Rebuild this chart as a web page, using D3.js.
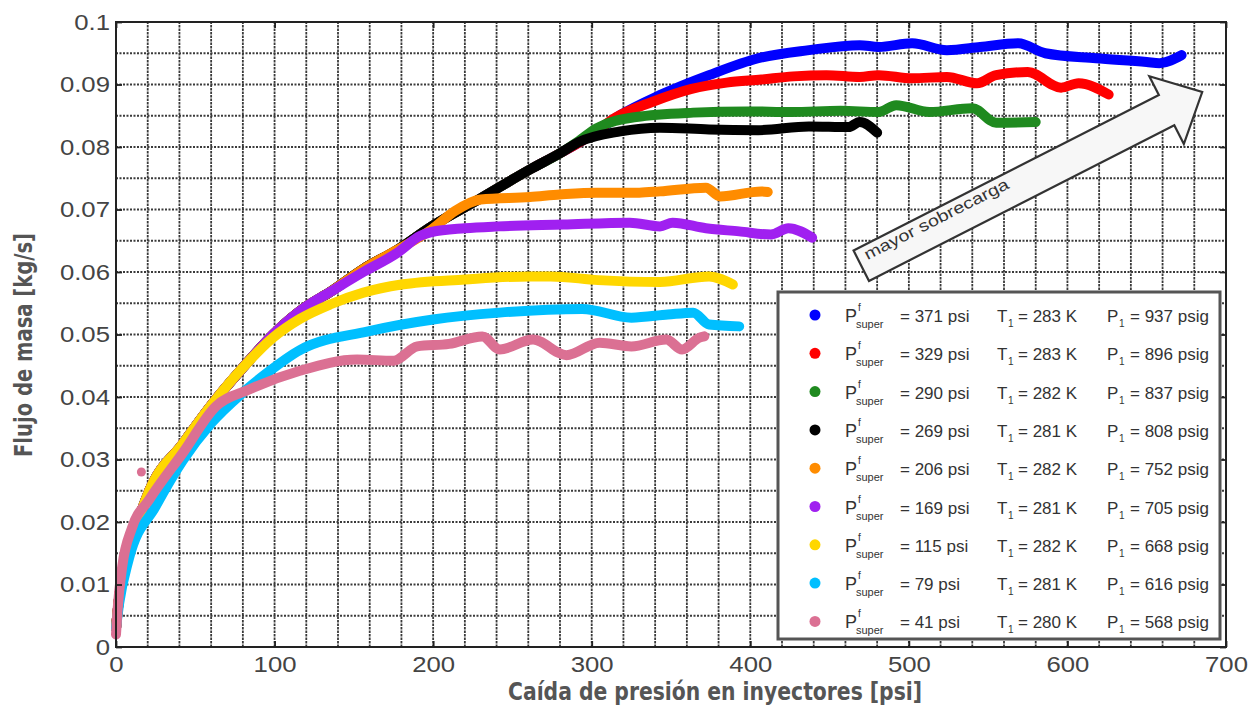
<!DOCTYPE html>
<html><head><meta charset="utf-8">
<script src="https://cdn.jsdelivr.net/npm/d3@7"></script>
<style>
html,body{margin:0;padding:0;background:#fff;}
svg{display:block;}
</style></head>
<body>
<script>
// ---------- DATA ----------
const xTicks = [0,100,200,300,400,500,600,700];
const yTicks = [0,0.01,0.02,0.03,0.04,0.05,0.06,0.07,0.08,0.09,0.1];
const xLabel = "Caída de presión en inyectores [psi]";
const yLabel = "Flujo de masa [kg/s]";
const arrowLabel = "mayor sobrecarga";

const seriesColors = ["#0000ff","#ff0000","#1f8a1f","#000000","#ff8c00","#a020f0","#ffd700","#00bfff","#db7093"];
const superP = [371,329,290,269,206,169,115,79,41];
const T1 = [283,283,282,281,282,281,282,281,280];
const P1 = [937,896,837,808,752,705,668,616,568];

const s371 = [[0,0.003],[2,0.008],[8,0.015],[21,0.025],[42,0.0325],[61,0.039],[80,0.0447],[99,0.050],[120,0.0545],[135,0.0568],[156,0.0605],[177,0.0635],[199,0.0673],[230,0.0718],[261,0.0764],[280,0.079],
  [299,0.0818],[318,0.0851],[343,0.0883],[374,0.0915],[405,0.0942],[437,0.0955],[469,0.0963],[481,0.096],[502,0.0966],[524,0.0955],[545,0.096],[569,0.0966],[586,0.095],[618,0.0942],[650,0.0936],[658,0.0934],[672,0.0947]];
const s329 = [[0,0.003],[2,0.008],[8,0.015],[21,0.025],[42,0.0325],[61,0.039],[80,0.0447],[99,0.050],[120,0.0545],[135,0.0568],[156,0.0605],[177,0.0635],[199,0.0673],[230,0.0718],[261,0.0764],[280,0.079],[299,0.0818],
  [315,0.0847],[338,0.0872],[363,0.0893],[385,0.0903],[407,0.0908],[427,0.0913],[448,0.0915],[469,0.0912],[481,0.0915],[502,0.091],[524,0.0912],[543,0.0902],[555,0.0915],[575,0.092],[596,0.0895],[607,0.0902],[626,0.0884]];
const s290 = [[0,0.003],[2,0.008],[8,0.015],[21,0.025],[42,0.0325],[61,0.039],[80,0.0447],[99,0.050],[120,0.0545],[135,0.0568],[156,0.0605],[177,0.0635],[199,0.0673],[230,0.0718],[261,0.0764],[280,0.079],
  [292,0.081],[303,0.083],[328,0.0848],[364,0.0855],[398,0.0857],[426,0.0856],[457,0.0858],[481,0.0856],[492,0.0867],[513,0.0856],[540,0.0862],[555,0.0839],[580,0.084]];
const s269 = [[0,0.003],[2,0.008],[8,0.015],[21,0.025],[42,0.0325],[61,0.039],[80,0.0447],[99,0.050],[120,0.0545],[135,0.0568],[156,0.0605],[177,0.0635],[199,0.0673],[230,0.0718],[261,0.0764],[280,0.079],
  [292,0.0808],[318,0.0825],[343,0.0831],[374,0.0828],[405,0.0827],[437,0.0833],[462,0.0832],[469,0.084],[480,0.0823]];
const s206 = [[0,0.003],[2,0.008],[8,0.015],[21,0.025],[42,0.0325],[61,0.039],[80,0.0447],[99,0.050],[120,0.0545],[135,0.0568],[156,0.0605],[177,0.0635],
  [199,0.0668],[214,0.0698],[230,0.0716],[261,0.072],[280,0.0724],[303,0.0727],[330,0.0727],[343,0.0729],[372,0.0735],[381,0.0721],[407,0.0729],[411,0.0728]];
const s169 = [[0,0.003],[2,0.008],[8,0.015],[21,0.025],[42,0.0325],[61,0.039],[80,0.0447],[99,0.050],[120,0.0545],[135,0.0568],
  [156,0.060],[177,0.063],[192,0.0658],[199,0.0664],[220,0.067],[241,0.0673],[282,0.0676],[324,0.0679],[343,0.0673],[351,0.0679],[372,0.067],[393,0.0665],[413,0.066],[424,0.067],[439,0.0655]];
const s115 = [[0,0.003],[2,0.008],[8,0.015],[21,0.025],[42,0.0325],[61,0.039],[80,0.0447],[99,0.0495],
  [116,0.0525],[135,0.0548],[156,0.0567],[180,0.058],[220,0.0588],[261,0.0593],[274,0.0593],[304,0.0587],[343,0.0584],[374,0.0593],[389,0.058]];
const s79 = [[0,0.003],[2,0.007],[8,0.014],[25,0.0225],[42,0.0298],[60,0.0358],[80,0.0407],[95,0.0438],[116,0.0475],[159,0.0505],[200,0.0524],[242,0.0535],[294,0.0541],[325,0.0527],[348,0.0532],[364,0.0535],[374,0.0516],[393,0.0513]];
const s41 = [[0,0.002],[1,0.006],[4,0.013],[10,0.019],[21,0.0236],[42,0.031],[63,0.0385],[84,0.0412],[116,0.0442],[152,0.046],[175,0.0458],[190,0.0481],[210,0.0485],[231,0.0497],[242,0.0476],[263,0.0492],[284,0.0467],[305,0.0487],[325,0.0481],[347,0.0492],[357,0.0476],[368,0.0495],[371,0.0497]];
const s41Outliers = [[16,0.028]];
const seriesData = [s371,s329,s290,s269,s206,s169,s115,s79,s41];

// arrow (data coordinates: tail centre and tip)
const arrowTail = [470,0.061];
const arrowTip = [685,0.0888];

// ---------- DRAW ----------
const W = 1258, H = 709;
const svg = d3.select("body").append("svg").attr("width",W).attr("height",H);
const x = d3.scaleLinear().domain([0,700]).range([116,1226]);
const y = d3.scaleLinear().domain([0,0.1]).range([647,22]);

// grid
const grid = svg.append("g");
grid.selectAll("line.v").data(d3.range(20,700,20)).join("line")
  .attr("x1",d=>x(d)).attr("x2",d=>x(d)).attr("y1",y(0)).attr("y2",y(0.1))
  .attr("stroke","#3a3a3a").attr("stroke-width",1.8).attr("stroke-dasharray","2.5,1");
grid.selectAll("line.h").data(d3.range(1,20).map(i=>i*0.005)).join("line")
  .attr("x1",x(0)).attr("x2",x(700)).attr("y1",d=>y(d)).attr("y2",d=>y(d))
  .attr("stroke","#3a3a3a").attr("stroke-width",1.8).attr("stroke-dasharray","2,1.5");

// series
const line = d3.line().x(d=>x(d[0])).y(d=>y(d[1])).curve(d3.curveMonotoneX);
const gS = svg.append("g");
seriesData.forEach((s,i)=>{
  gS.append("path").datum(s).attr("d",line).attr("fill","none")
    .attr("stroke",seriesColors[i]).attr("stroke-width",10)
    .attr("stroke-linecap","round").attr("stroke-linejoin","round");
});
gS.selectAll("circle.o").data(s41Outliers).join("circle")
  .attr("cx",d=>x(d[0])).attr("cy",d=>y(d[1])).attr("r",4.5).attr("fill",seriesColors[8]);

// axes
const fmtY = d => d===0 ? "0" : String(+d.toFixed(2));
const axB = svg.append("g").attr("transform",`translate(0,${y(0)})`)
  .call(d3.axisBottom(x).tickValues(xTicks).tickSize(-6).tickPadding(9).tickSizeOuter(0));
const axL = svg.append("g").attr("transform",`translate(${x(0)},0)`)
  .call(d3.axisLeft(y).tickValues(yTicks).tickFormat(fmtY).tickSize(-6).tickPadding(6).tickSizeOuter(0));
svg.append("g").attr("transform",`translate(0,${y(0.1)})`)
  .call(d3.axisTop(x).tickValues(xTicks).tickSize(-6).tickFormat("").tickSizeOuter(0));
svg.append("g").attr("transform",`translate(${x(700)},0)`)
  .call(d3.axisRight(y).tickValues(yTicks).tickSize(-6).tickFormat("").tickSizeOuter(0));
svg.selectAll(".domain").remove();
svg.selectAll(".tick line").attr("stroke","#222").attr("stroke-width",1.8);
[axB,axL].forEach(a=>a.selectAll("text").attr("font-family","Liberation Sans, Arial, sans-serif")
  .attr("font-size",23).attr("fill","#444"));
axL.selectAll("text").attr("x",0).attr("transform","translate(-6,0) scale(1.12,1)");
axB.selectAll("text").attr("transform","scale(1.12,1)");

// frame
svg.append("rect").attr("x",x(0)).attr("y",y(0.1)).attr("width",x(700)-x(0)).attr("height",y(0)-y(0.1))
  .attr("fill","none").attr("stroke","#222").attr("stroke-width",2);

// axis labels
svg.append("text").attr("x",715).attr("y",700).attr("text-anchor","middle")
  .attr("font-family","DejaVu Sans Condensed, DejaVu Sans").attr("font-weight","bold")
  .attr("font-size",24).attr("fill","#555")
  .attr("textLength",414).attr("lengthAdjust","spacingAndGlyphs").text(xLabel);
svg.append("text").attr("transform","translate(32,345) rotate(-90)").attr("text-anchor","middle")
  .attr("font-family","DejaVu Sans Condensed, DejaVu Sans").attr("font-weight","bold")
  .attr("font-size",24).attr("fill","#555")
  .attr("textLength",224).attr("lengthAdjust","spacingAndGlyphs").text(yLabel);

// arrow
{
  const tx = x(arrowTail[0]), ty = y(arrowTail[1]);
  const px = x(arrowTip[0]), py = y(arrowTip[1]);
  const dx = px-tx, dy = py-ty, L = Math.hypot(dx,dy);
  const ux = dx/L, uy = dy/L, nx = -uy, ny = ux;
  const sw = 17, hw = 38, hl = 40;
  const jx = px-ux*hl, jy = py-uy*hl;
  const pts = [
    [tx+nx*sw, ty+ny*sw],[jx+nx*sw, jy+ny*sw],[jx+nx*hw, jy+ny*hw],[px,py],
    [jx-nx*hw, jy-ny*hw],[jx-nx*sw, jy-ny*sw],[tx-nx*sw, ty-ny*sw]];
  svg.append("path").attr("d","M"+pts.map(p=>p.join(",")).join("L")+"Z")
    .attr("fill","#f7f7f7").attr("stroke","#333").attr("stroke-width",2.2).attr("stroke-linejoin","miter");
  const ang = Math.atan2(dy,dx)*180/Math.PI;
  const ox = tx + ux*8 - nx*2, oy = ty + uy*8 - ny*2;
  svg.append("text").attr("transform",`translate(${ox},${oy}) rotate(${ang})`)
    .attr("font-family","Liberation Sans, Arial, sans-serif").attr("font-size",16).attr("fill","#333")
    .attr("textLength",160).attr("lengthAdjust","spacingAndGlyphs")
    .text(arrowLabel);
}

// legend
const lg = svg.append("g");
lg.append("rect").attr("x",778).attr("y",292).attr("width",442).attr("height",347)
  .attr("fill","#fff").attr("stroke","#555").attr("stroke-width",3);
const rowY0 = 315, rowDY = 38.3;
const ff = "Liberation Sans, Arial, sans-serif";
superP.forEach((v,i)=>{
  const yc = rowY0 + i*rowDY;
  const t = (xx,yy,fs,str)=>lg.append("text").attr("x",xx).attr("y",yy).attr("font-family",ff)
    .attr("font-size",fs).attr("fill","#333").text(str);
  lg.append("circle").attr("cx",815).attr("cy",yc).attr("r",5.5).attr("fill",seriesColors[i]);
  t(845,yc+7,18,"P");
  t(858,yc-4,10,"f");
  t(856,yc+13,11,"super");
  t(900,yc+7,17,"= "+v+" psi");
  t(997,yc+7,17,"T");
  t(1008,yc+12,10,"1");
  t(1018,yc+7,17,"= "+T1[i]+" K");
  t(1107,yc+7,17,"P");
  t(1119,yc+12,10,"1");
  t(1130,yc+7,17,"= "+P1[i]+" psig");
});
</script>
</body></html>
